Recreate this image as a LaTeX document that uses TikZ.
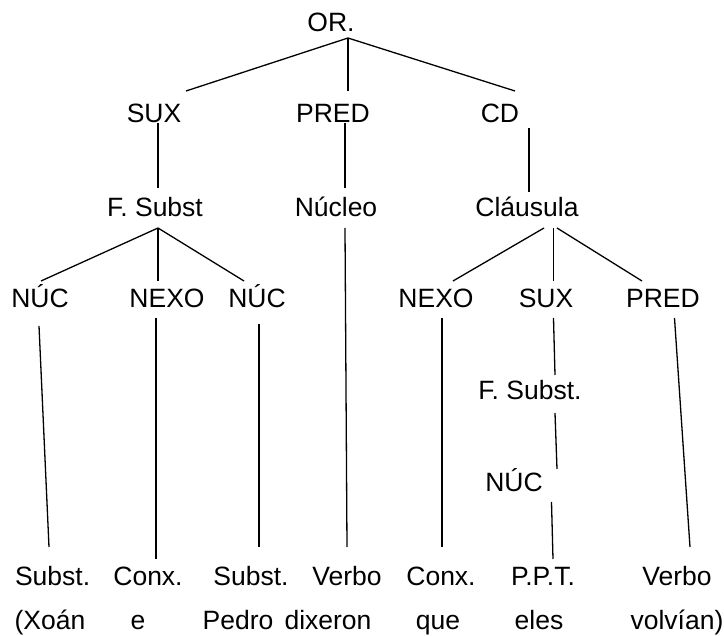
\documentclass[tikz,border=0pt]{standalone}
\usepackage{fontspec}
\setmainfont{Liberation Sans}
\tikzset{
  lbl/.style={anchor=base, inner sep=0pt, font=\fontsize{26.5}{31}\selectfont},
  branch/.style={line width=1.3pt},
}
\begin{document}
\begin{tikzpicture}[x=1pt, y=-1pt]
  \useasboundingbox (0,0) rectangle (724,636);

  % labels
  \node[lbl] (or) at (331,32) {OR.};

  \node[lbl] (sux) at (154,123) {SUX};
  \node[lbl] (pred) at (333,123) {PRED};
  \node[lbl] (cd) at (500,123) {CD};

  \node[lbl] (fsubst) at (155,217) {F. Subst};
  \node[lbl] (nucleo) at (336,217) {Núcleo};
  \node[lbl] (clausula) at (527,217) {Cláusula};

  \node[lbl] (nucA) at (40,308) {NÚC};
  \node[lbl] (nexoA) at (167,308) {NEXO};
  \node[lbl] (nucB) at (257,308) {NÚC};
  \node[lbl] (nexoB) at (436,308) {NEXO};
  \node[lbl] (suxB) at (546,308) {SUX};
  \node[lbl] (predB) at (663,308) {PRED};

  \node[lbl] (fsubstB) at (530,400) {F. Subst.};
  \node[lbl] (nucC) at (514,492) {NÚC};

  \node[lbl] (substA) at (52.6,586) {Subst.};
  \node[lbl] (conxA) at (148,586) {Conx.};
  \node[lbl] (substB) at (251,586) {Subst.};
  \node[lbl] (verboA) at (347,586) {Verbo};
  \node[lbl] (conxB) at (441,586) {Conx.};
  \node[lbl] (ppt) at (543,586) {P.P.T.};
  \node[lbl] (verboB) at (677,586) {Verbo};

  \node[lbl] (xoan) at (50,630) {(Xoán};
  \node[lbl] (e) at (138,630) {e};
  \node[lbl] (pedro) at (238,630) {Pedro};
  \node[lbl] (dixeron) at (328,630) {dixeron};
  \node[lbl] (que) at (438,630) {que};
  \node[lbl] (eles) at (539,630) {eles};
  \node[lbl] (volvian) at (677,630) {volvían)};

  % branch ends
  \coordinate (or-foot) at (348,38);
  \coordinate (sux-head) at (186,91);
  \coordinate (pred-head) at (348,91);
  \coordinate (cd-head) at (515,91);

  \coordinate (sux-foot) at (158,123);
  \coordinate (fsubst-head) at (158,188);
  \coordinate (pred-foot) at (345,123);
  \coordinate (nucleo-head) at (345,188);
  \coordinate (cd-foot) at (529,128);
  \coordinate (clausula-head) at (529,192);

  \coordinate (fsubst-foot) at (158,228);
  \coordinate (nucA-head) at (41,281);
  \coordinate (nexoA-head) at (158,281);
  \coordinate (nucB-head) at (244,281);
  \coordinate (nucleo-foot) at (345,228);
  \coordinate (verboA-head) at (347,547);
  \coordinate (clausula-footA) at (544,228);
  \coordinate (clausula-footB) at (553.5,228);
  \coordinate (clausula-footC) at (557,228);
  \coordinate (nexoB-head) at (453,281);
  \coordinate (suxB-head) at (553.5,281);
  \coordinate (predB-head) at (642,281);

  \coordinate (nucA-foot) at (39,326);
  \coordinate (substA-head) at (49,547);
  \coordinate (nexoA-foot) at (156,318);
  \coordinate (conxA-head) at (156,559);
  \coordinate (nucB-foot) at (259,324);
  \coordinate (substB-head) at (259,547);
  \coordinate (nexoB-foot) at (442,318);
  \coordinate (conxB-head) at (442,547);
  \coordinate (suxB-foot) at (553.5,318);
  \coordinate (fsubstB-head) at (555,375);
  \coordinate (fsubstB-foot) at (555,413);
  \coordinate (nucC-head) at (557,469);
  \coordinate (nucC-foot) at (551.5,502);
  \coordinate (ppt-head) at (553,559);
  \coordinate (predB-foot) at (674.5,318);
  \coordinate (verboB-head) at (690,547);

  % branches
  \draw[branch] (or-foot) -- (sux-head);
  \draw[branch] (or-foot) -- (pred-head);
  \draw[branch] (or-foot) -- (cd-head);

  \draw[branch] (sux-foot) -- (fsubst-head);
  \draw[branch] (pred-foot) -- (nucleo-head);
  \draw[branch] (cd-foot) -- (clausula-head);

  \draw[branch] (fsubst-foot) -- (nucA-head);
  \draw[branch] (fsubst-foot) -- (nexoA-head);
  \draw[branch] (fsubst-foot) -- (nucB-head);
  \draw[branch] (nucleo-foot) -- (verboA-head);
  \draw[branch] (clausula-footA) -- (nexoB-head);
  \draw[branch] (clausula-footB) -- (suxB-head);
  \draw[branch] (clausula-footC) -- (predB-head);

  \draw[branch] (nucA-foot) -- (substA-head);
  \draw[branch] (nexoA-foot) -- (conxA-head);
  \draw[branch] (nucB-foot) -- (substB-head);
  \draw[branch] (nexoB-foot) -- (conxB-head);
  \draw[branch] (suxB-foot) -- (fsubstB-head);
  \draw[branch] (fsubstB-foot) -- (nucC-head);
  \draw[branch] (nucC-foot) -- (ppt-head);
  \draw[branch] (predB-foot) -- (verboB-head);
\end{tikzpicture}
\end{document}
